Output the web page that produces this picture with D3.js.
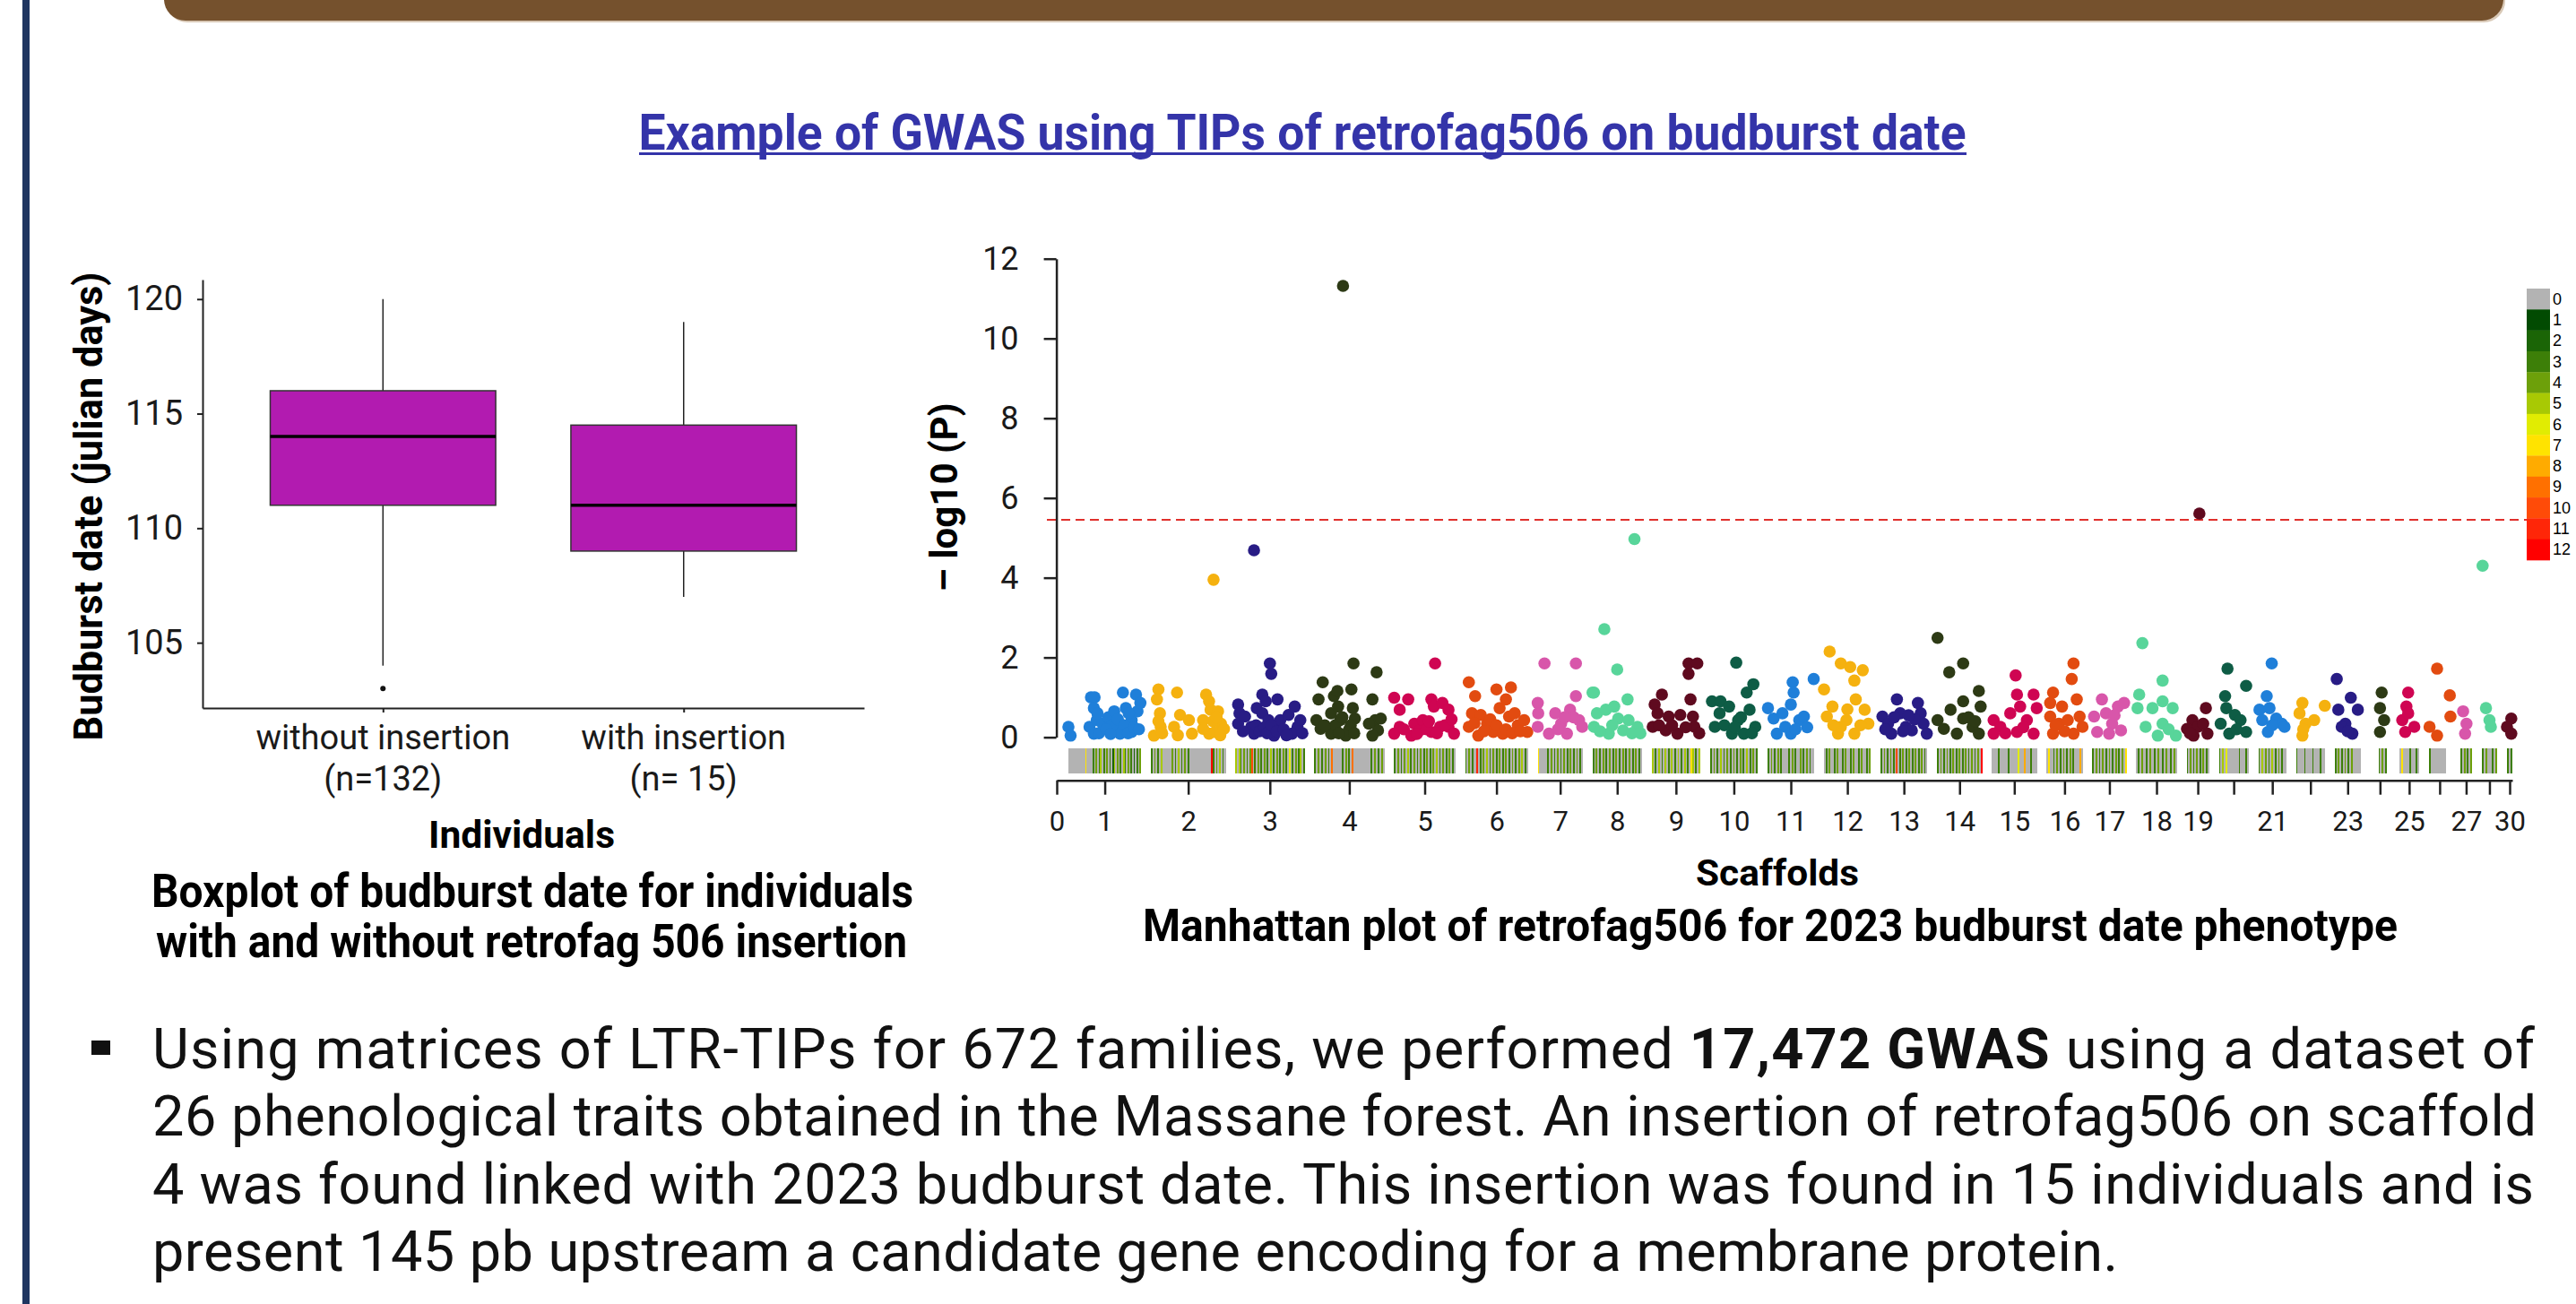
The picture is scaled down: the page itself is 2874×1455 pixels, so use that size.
<!DOCTYPE html>
<html>
<head>
<meta charset="utf-8">
<script src="https://cdn.jsdelivr.net/npm/d3@7"></script>
<style>
html, body { margin: 0; padding: 0; background: #fff; }
svg { display: block; }
</style>
</head>
<body>
<script>
// ---- boxplot data ----
var groupNames = ["without insertion", "with insertion"];
var groupCounts = ["(n=132)", "(n= 15)"];
var q1Values = [111, 109];
var medianValues = [114, 111];
var q3Values = [116, 114.5];
var whiskerLow = [104, 107];
var whiskerHigh = [120, 119];
var outlierValues = [[103], []];
var boxTicks = [105, 110, 115, 120];

// ---- manhattan data ----
var scaffoldNames = ["1","2","3","4","5","6","7","8","9","10","11","12","13","14","15",
	"16","17","18","19","20","21","22","23","24","25","26","27","28","30"];
var scaffoldSizes = [81,83,77,78,68,70,50,55,54,53,52,52,52,50,50,40,38,45,25,33,31,32,29,21,22,24,13,17,6];
var shownLabels = ["0","1","2","3","4","5","6","7","8","9","10","11","12","13","14","15","16","17","18","19","21","23","25","27","30"];
var manTicks = [0, 2, 4, 6, 8, 10, 12];
var threshold = 5.45;

// [relative position in scaffold, -log10(P)]
var scaffoldPoints = [
	[[0,.26],[.03,.04],[.29,.26],[.31,1.0],[.36,1.0],[.35,.73],[.39,.43],[.35,.09],[.47,.34],[.55,.5],[.63,.65],[.67,.26],[.71,.09],[.75,1.12],[.79,.73],[.87,.43],[.87,.13],[.93,1.07],[.95,.65],[.99,.86],[.6,.3],[.83,.6],[.42,.1],[.52,.2],[.58,.08],[.68,.45],[.77,.3],[.82,.1],[.9,.25],[.97,.2],[.4,.6]],
	[[.10,1.2],[.08,.95],[.12,.6],[.13,.26],[.04,.04],[.35,1.12],[.39,.56],[.31,.26],[.51,.43],[.55,.09],[.74,1.07],[.78,.9],[.8,.69],[.84,3.95],[.9,.65],[.94,.34],[.86,.13],[.98,.21],[.7,.43],[.78,.09],[.7,.21],[.1,.4],[.15,.1],[.36,.05],[.83,.4],[.88,.5],[.93,.05]],
	[[.04,.82],[.06,.6],[.04,.34],[.14,.52],[.27,4.69],[.31,.73],[.39,1.07],[.44,.9],[.39,.6],[.5,1.85],[.52,1.59],[.48,.43],[.23,.26],[.56,.26],[.61,.95],[.65,.43],[.77,.56],[.86,.77],[.9,.26],[.82,.09],[.94,.43],[.27,.09],[.56,.04],[.3,.3],[.35,.15],[.42,.25],[.46,.1],[.52,.3],[.6,.15],[.7,.2],[.74,.05],[.97,.1],[.11,.15]],
	[[.06,.95],[.03,.43],[.09,.21],[.12,1.38],[.24,.6],[.28,1.03],[.33,1.16],[.34,.77],[.37,.43],[.24,.09],[.41,11.32],[.49,.17],[.53,1.2],[.55,.73],[.56,1.85],[.58,.47],[.45,.04],[.83,.95],[.89,1.63],[.87,.43],[.95,.47],[.91,.17],[.78,.34],[.83,.04],[.3,.3],[.35,.1],[.4,.5],[.52,.3],[.57,.1],[.15,.3]],
	[[0,.99],[.09,.69],[.23,.95],[.09,.26],[0,.09],[.33,.34],[.42,.17],[.47,.43],[.61,.95],[.67,1.85],[.65,.77],[.79,.86],[.89,.69],[.75,.26],[.61,.13],[.89,.26],[.98,.09],[.28,.04],[.16,.2],[.37,.08],[.53,.2],[.57,.4],[.7,.1],[.83,.3],[.94,.45]],
	[[.06,1.38],[.16,1.03],[.11,.6],[.06,.26],[.25,.56],[.35,.34],[.5,1.2],[.55,.73],[.65,.95],[.73,1.25],[.7,.52],[.79,.6],[.84,.3],[.94,.43],[.99,.13],[.45,.13],[.6,.09],[.21,.04],[.15,.35],[.3,.15],[.4,.45],[.5,.3],[.65,.2],[.75,.1],[.88,.15]],
	[[0,.86],[.01,.6],[0,.26],[.15,1.85],[.39,.6],[.52,.34],[.72,.69],[.85,1.85],[.85,1.03],[.92,.43],[.99,.26],[.25,.09],[.65,.09],[.45,.2],[.8,.5],[.6,.5]],
	[[.03,1.12],[0,1.12],[.09,.6],[.03,.26],[.24,2.71],[.27,.69],[.5,1.7],[.44,.77],[.52,.47],[.71,.95],[.73,.43],[.85,4.97],[.91,.26],[.62,.17],[.33,.09],[.15,.15],[.4,.3],[.8,.1],[.97,.1]],
	[[.06,.82],[.12,.6],[.02,.26],[.21,1.07],[.35,.52],[.29,.17],[.59,.56],[.76,1.85],[.76,1.59],[.94,1.85],[.8,.95],[.85,.52],[.88,.26],[.53,.09],[.15,.3],[.42,.3],[.7,.25],[.98,.1]],
	[[.04,.9],[.22,.9],[.2,.6],[.1,.26],[.4,.77],[.55,1.87],[.59,.43],[.77,1.12],[.91,1.33],[.83,.69],[.95,.26],[.46,.09],[.71,.09],[.3,.3],[.52,.25],[.65,.5],[.88,.1]],
	[[.01,.73],[.13,.47],[.32,.6],[.38,.26],[.5,.09],[.54,1.38],[.56,1.12],[.5,.82],[.68,.43],[.78,.52],[.99,1.46],[.2,.09],[.6,.2],[.85,.25]],
	[[.12,2.15],[0,1.2],[.06,.52],[.18,.77],[.36,1.85],[.48,.43],[.56,1.76],[.65,1.42],[.68,.95],[.83,1.68],[.87,.69],[.95,.34],[.3,.09],[.65,.09],[.36,.26],[.2,.3],[.5,.7],[.78,.3]],
	[[.04,.52],[.16,.34],[.35,.95],[.42,.6],[.54,.26],[.8,.86],[.86,.6],[.92,.34],[.67,.17],[.23,.09],[.99,.09],[.29,.5],[.73,.45],[.48,.15],[.6,.55],[.1,.2]],
	[[.01,2.49],[.27,1.63],[.58,1.85],[.93,1.16],[.58,.9],[.3,.69],[.01,.43],[.15,.21],[.58,.47],[.79,.26],[.97,.77],[.44,.09],[.93,.09],[.7,.5],[.85,.4]],
	[[.53,1.55],[.56,1.07],[.93,1.07],[1,.73],[.63,.77],[.04,.43],[.19,.26],[.41,.6],[.78,.43],[.56,.13],[.93,.09],[.04,.09],[.3,.1],[.7,.25]],
	[[.75,1.85],[.7,1.46],[.18,1.12],[.1,.86],[.43,.77],[.84,.95],[.1,.52],[.34,.34],[.59,.43],[.92,.52],[1,.26],[.18,.09],[.75,.09],[.5,.15],[.25,.3]],
	[[.28,.95],[.05,.52],[.4,.6],[.75,.77],[.93,.86],[.58,.34],[.14,.13],[.84,.17],[.49,.09],[.65,.55]],
	[[.15,2.36],[.65,1.42],[.07,1.07],[.03,.73],[.4,.73],[.65,.9],[.9,.73],[.23,.26],[.65,.34],[.53,.04],[.98,.04],[.8,.2]],
	[[.57,5.61],[.86,.73],[.26,.43],[.02,.21],[.5,.26],[.74,.34],[.31,.04],[.93,.09],[.15,.1]],
	[[.29,1.72],[.92,1.29],[.21,1.03],[.25,.73],[.06,.34],[.54,.56],[.73,.43],[.92,.13],[.35,.09],[.6,.2]],
	[[.48,1.85],[.3,1.03],[.04,.69],[.4,.73],[.14,.43],[.64,.47],[.84,.34],[.34,.13],[.94,.26],[.5,.3]],
	[[.22,.86],[1,.79],[.12,.6],[.63,.43],[.33,.34],[.22,.04],[.25,.2]],
	[[.08,1.46],[.62,.99],[.14,.69],[.89,.69],[.41,.34],[.68,.09],[.27,.26],[.5,.15]],
	[[.59,1.12],[.5,.73],[.72,.43],[.5,.13]],
	[[.45,1.12],[.36,.77],[.15,.43],[.3,.13],[.76,.26],[.45,.6]],
	[[.38,1.72],[.97,1.05],[1,.52],[.03,.26],[.38,.04]],
	[[.24,.65],[.53,.34],[.41,.09]],
	[[.05,4.3],[.27,.73],[.5,.43],[.59,.26]],
	[[.8,.47],[0,.26],[.8,.09]]
];

// marker density along each scaffold, one character per bin (0-9, a=10, b=11, c=12, - = none)
var scaffoldDensity = [
	"000000000007000030403503040302504030530403020304",
	"30403050000004030503040300000000000000c30405030",
	"5053040304a030403040305030403040306030403503",
	"30403040309000003040309000000000030403040",
	"30403040503040304030403040503040304030",
	"3040300b0304050304030403040304030405030",
	"7000003040304030403040304030",
	"304030403040304030403040304030",
	"503050305030503050305030750305",
	"30403050304030403040305030403",
	"30403040300003040300403040300",
	"03040030400304003040030400304",
	"3040304030a0304030403040304030",
	"3040304030403040304030403040c",
	"0000300000300000600080003000",
	"0700304030403040300080",
	"304030403040304030407",
	"0304003040030400304003040",
	"30403040304030",
	"305060000000300030",
	"30504030503040300",
	"300003000030000300",
	"3040304030400000",
	"-----30403--",
	"070000300030",
	"3000000000---",
	"3040304",
	"304000304",
	"303"
];

var pointColors = ["#1f7fd9", "#f5b10f", "#281c85", "#2d3a15", "#cf0552",
	"#e24b10", "#d856aa", "#58d59a", "#5f0a1f", "#0e5c45"];
var densityColors = ["#b3b3b3", "#024b02", "#1b6506", "#3d7f08", "#6da00a", "#a8c904",
	"#e1ec02", "#ffe300", "#ffab00", "#ff7000", "#ff4b08", "#ff2608", "#ff0000"];

var W = 2874, H = 1455;
var svg = d3.select("body").append("svg")
	.attr("width", W).attr("height", H)
	.style("font-family", "Roboto, 'Liberation Sans', sans-serif");

// poster frame
svg.append("rect").attr("x", 185).attr("y", -40).attr("width", 2610).attr("height", 65)
	.attr("rx", 24).attr("fill", "#d9c9b7");
svg.append("rect").attr("x", 183).attr("y", -40).attr("width", 2610).attr("height", 63)
	.attr("rx", 24).attr("fill", "#75512d");
svg.append("rect").attr("x", 25).attr("y", 0).attr("width", 8).attr("height", H).attr("fill", "#1f3560");

// title
svg.append("text")
	.attr("x", 1453).attr("y", 167).attr("text-anchor", "middle")
	.attr("font-size", 56).attr("font-weight", 700).attr("fill", "#3434a9")
	.attr("textLength", 1481).attr("lengthAdjust", "spacingAndGlyphs")
	.text("Example of GWAS using TIPs of retrofag506 on budburst date");
svg.append("rect").attr("x", 713).attr("y", 170).attr("width", 1481).attr("height", 3).attr("fill", "#3434a9");

function styleAxis(g, size, width) {
	g.attr("font-family", null).attr("font-size", null);
	g.selectAll(".domain, .tick line").attr("stroke", "#222").attr("stroke-width", width);
	g.selectAll(".tick text").attr("fill", "#1a1a1a").attr("font-size", size)
		.attr("font-family", "Roboto, sans-serif");
}

// ---- boxplot ----
var yB = d3.scaleLinear().domain([102.15, 120.85]).range([790, 312]);
var xB = d3.scaleLinear().domain([0.4, 2.6]).range([226, 964]);
var gB = svg.append("g");
var halfW = 0.375;

groupNames.forEach(function(name, i) {
	var cx = xB(i + 1);
	gB.append("line").attr("x1", cx).attr("x2", cx)
		.attr("y1", yB(whiskerLow[i])).attr("y2", yB(q1Values[i]))
		.attr("stroke", "#222").attr("stroke-width", 1.5);
	gB.append("line").attr("x1", cx).attr("x2", cx)
		.attr("y1", yB(q3Values[i])).attr("y2", yB(whiskerHigh[i]))
		.attr("stroke", "#222").attr("stroke-width", 1.5);
	gB.append("rect")
		.attr("x", xB(i + 1 - halfW)).attr("width", xB(i + 1 + halfW) - xB(i + 1 - halfW))
		.attr("y", yB(q3Values[i])).attr("height", yB(q1Values[i]) - yB(q3Values[i]))
		.attr("fill", "#b21bb0").attr("stroke", "#333").attr("stroke-width", 1.5);
	gB.append("line")
		.attr("x1", xB(i + 1 - halfW)).attr("x2", xB(i + 1 + halfW))
		.attr("y1", yB(medianValues[i])).attr("y2", yB(medianValues[i]))
		.attr("stroke", "#000").attr("stroke-width", 3.5);
	gB.selectAll(null).data(outlierValues[i]).enter().append("circle")
		.attr("cx", cx).attr("cy", d => yB(d)).attr("r", 3).attr("fill", "#111");
	gB.append("text").attr("x", cx).attr("y", 836).attr("text-anchor", "middle")
		.attr("font-size", 38).attr("fill", "#1a1a1a").text(name);
	gB.append("text").attr("x", cx).attr("y", 882).attr("text-anchor", "middle")
		.attr("font-size", 38).attr("fill", "#1a1a1a").text(groupCounts[i]);
});

gB.append("g").attr("transform", "translate(226,0)")
	.call(d3.axisLeft(yB).tickValues(boxTicks).tickSize(6).tickSizeOuter(0).tickPadding(16))
	.call(g => styleAxis(g, 38, 2));
gB.append("g").attr("transform", "translate(0,790)")
	.call(d3.axisBottom(xB).tickValues([1, 2]).tickSize(5).tickSizeOuter(0).tickFormat(""))
	.call(g => styleAxis(g, 38, 2));

gB.append("text").attr("transform", "translate(114,565) rotate(-90)")
	.attr("text-anchor", "middle").attr("font-size", 44).attr("font-weight", 700)
	.attr("textLength", 523).attr("lengthAdjust", "spacingAndGlyphs")
	.text("Budburst date  (julian days)");
gB.append("text").attr("x", 582).attr("y", 946).attr("text-anchor", "middle")
	.attr("font-size", 42).attr("font-weight", 700)
	.attr("textLength", 208).attr("lengthAdjust", "spacingAndGlyphs").text("Individuals");
gB.append("text").attr("x", 594).attr("y", 1012).attr("text-anchor", "middle")
	.attr("font-size", 52).attr("font-weight", 700)
	.attr("textLength", 850).attr("lengthAdjust", "spacingAndGlyphs")
	.text("Boxplot of budburst date for individuals");
gB.append("text").attr("x", 593).attr("y", 1068).attr("text-anchor", "middle")
	.attr("font-size", 52).attr("font-weight", 700)
	.attr("textLength", 838).attr("lengthAdjust", "spacingAndGlyphs")
	.text("with and without retrofag 506 insertion");

// ---- manhattan ----
var leadUnits = 13, gapUnits = 11;
var starts = [], acc = leadUnits;
scaffoldSizes.forEach(function(s) { starts.push(acc); acc += s + gapUnits; });
var totalUnits = acc - gapUnits;

var xM = d3.scaleLinear().domain([0, totalUnits]).range([1179, 2803]);
var yM = d3.scaleLinear().domain([0, 12]).range([822.6, 288.7]);
var gM = svg.append("g");

// density strip
scaffoldDensity.forEach(function(str, i) {
	var n = str.length;
	for (var j = 0; j < n; j++) {
		var c = str[j];
		if (c === "-") continue;
		var v = parseInt(c, 16);
		var x0 = xM(starts[i] + scaffoldSizes[i] * j / n);
		var x1 = xM(starts[i] + scaffoldSizes[i] * (j + 1) / n);
		gM.append("rect").attr("x", x0).attr("y", 835).attr("width", x1 - x0 + 0.3).attr("height", 28)
			.attr("fill", densityColors[v]).attr("shape-rendering", "crispEdges");
	}
});

// threshold
gM.append("line").attr("x1", 1168).attr("x2", 2819)
	.attr("y1", yM(threshold)).attr("y2", yM(threshold))
	.attr("stroke", "#e0302c").attr("stroke-width", 2).attr("stroke-dasharray", "10,6");

// points
scaffoldPoints.forEach(function(pts, i) {
	gM.selectAll(null).data(pts).enter().append("circle")
		.attr("cx", d => xM(starts[i] + d[0] * scaffoldSizes[i]))
		.attr("cy", d => yM(d[1]))
		.attr("r", 6.8)
		.attr("fill", pointColors[i % pointColors.length]);
});

// axes
gM.append("g").attr("transform", "translate(1178.6,0)")
	.call(d3.axisLeft(yM).tickValues(manTicks).tickSize(14).tickSizeOuter(0).tickPadding(28))
	.call(g => styleAxis(g, 36, 2.5));

var tickPos = [0].concat(scaffoldSizes.map((s, i) => starts[i] + s / 2));
var tickNames = ["0"].concat(scaffoldNames);
gM.append("g").attr("transform", "translate(0,870.7)")
	.call(d3.axisBottom(xM).tickValues(tickPos).tickSize(16).tickSizeOuter(0).tickPadding(18)
		.tickFormat((d, i) => shownLabels.indexOf(tickNames[i]) >= 0 ? tickNames[i] : ""))
	.call(g => styleAxis(g, 31, 2.5));

gM.append("text").attr("transform", "translate(1068,555) rotate(-90)")
	.attr("text-anchor", "middle").attr("font-size", 42).attr("font-weight", 700)
	.text("\u2013 log10 (P)");
gM.append("text").attr("x", 1983).attr("y", 988).attr("text-anchor", "middle")
	.attr("font-size", 40).attr("font-weight", 700)
	.attr("textLength", 182).attr("lengthAdjust", "spacingAndGlyphs").text("Scaffolds");
gM.append("text").attr("x", 1975).attr("y", 1050).attr("text-anchor", "middle")
	.attr("font-size", 50).attr("font-weight", 700)
	.attr("textLength", 1400).attr("lengthAdjust", "spacingAndGlyphs")
	.text("Manhattan plot of retrofag506 for 2023 budburst date phenotype");

// density legend
var legY = d3.scaleBand().domain(d3.range(densityColors.length)).range([322, 625]);
var gL = svg.append("g");
gL.selectAll("rect").data(densityColors).enter().append("rect")
	.attr("x", 2819).attr("width", 26)
	.attr("y", (d, i) => legY(i)).attr("height", legY.bandwidth() + 0.3)
	.attr("fill", d => d);
gL.selectAll("text").data(densityColors).enter().append("text")
	.attr("x", 2848).attr("y", (d, i) => legY(i) + legY.bandwidth() / 2)
	.attr("dominant-baseline", "central")
	.attr("font-family", "'Liberation Sans', Arial, sans-serif").attr("font-size", 18)
	.text((d, i) => i);

// ---- text paragraph ----
var para = svg.append("g").attr("fill", "#111").attr("font-size", 63);
para.append("rect").attr("x", 102).attr("y", 1161).attr("width", 21).attr("height", 16).attr("fill", "#111");
var l1 = para.append("text").attr("x", 170).attr("y", 1192)
	.attr("textLength", 2658).attr("lengthAdjust", "spacing");
l1.append("tspan").text("Using matrices of LTR-TIPs for 672 families, we performed ");
l1.append("tspan").attr("font-weight", 700).text("17,472 GWAS");
l1.append("tspan").text(" using a dataset of");
para.append("text").attr("x", 170).attr("y", 1267)
	.attr("textLength", 2660).attr("lengthAdjust", "spacing")
	.text("26 phenological traits obtained in the Massane forest. An insertion of retrofag506 on scaffold");
para.append("text").attr("x", 170).attr("y", 1343)
	.attr("textLength", 2657).attr("lengthAdjust", "spacing")
	.text("4 was found linked with 2023 budburst date. This insertion was found in 15 individuals and is");
para.append("text").attr("x", 170).attr("y", 1418)
	.attr("textLength", 2193).attr("lengthAdjust", "spacing")
	.text("present 145 pb upstream a candidate gene encoding for a membrane protein.");
</script>
</body>
</html>
